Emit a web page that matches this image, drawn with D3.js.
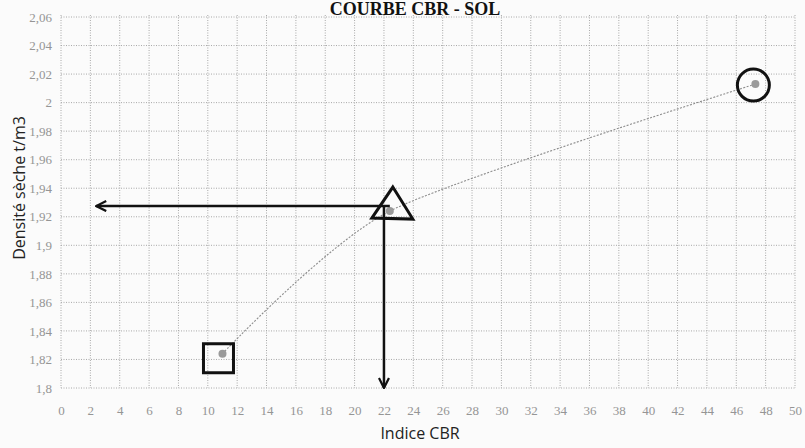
<!DOCTYPE html>
<html><head><meta charset="utf-8">
<script src="https://cdn.jsdelivr.net/npm/d3@7"></script>
<style>
html,body{margin:0;padding:0;background:#fbfbfb;}
svg{display:block;}
</style></head>
<body>
<svg id="c" width="805" height="448"></svg>
<script>
// ---- data ----
const cbr = [11.0, 22.4, 47.3];
const density = [1.824, 1.924, 2.013];
const xTicks = d3.range(0, 51, 2);
const yTicks = [1.8,1.82,1.84,1.86,1.88,1.9,1.92,1.94,1.96,1.98,2,2.02,2.04,2.06];
const readDensity = 1.9275;   // horizontal reading arrow
const readCBR = 22;           // vertical reading arrow
const arrowLeftX = 2.4;
const titleText = "COURBE CBR - SOL";
const xLabel = "Indice CBR";
const yLabel = "Densité sèche t/m3";

const svg = d3.select("#c");
const x = d3.scaleLinear().domain([0,50]).range([61,795]);
const y = d3.scaleLinear().domain([1.8,2.06]).range([388,17]);
const fmt = d => String(+d.toFixed(2)).replace(".", ",");

// grid
const g = svg.append("g");
g.selectAll("line.v").data(xTicks).join("line")
  .attr("x1", d=>x(d)).attr("x2", d=>x(d)).attr("y1", y(2.06)-2).attr("y2", y(1.8))
  .attr("stroke","#a8a8a8").attr("stroke-width",1).attr("stroke-dasharray","1,1.5");
g.selectAll("line.h").data(yTicks).join("line")
  .attr("x1", x(0)).attr("x2", x(50)).attr("y1", d=>y(d)).attr("y2", d=>y(d))
  .attr("stroke","#a8a8a8").attr("stroke-width",1).attr("stroke-dasharray","1,1.5");

// axes labels via d3 axes (no domain lines)
const ax = svg.append("g").attr("transform",`translate(0,${y(1.8)})`)
  .call(d3.axisBottom(x).tickValues(xTicks).tickSize(0).tickPadding(18).tickFormat(d=>d));
const ay = svg.append("g").attr("transform",`translate(${x(0)},0)`)
  .call(d3.axisLeft(y).tickValues(yTicks).tickSize(0).tickPadding(9).tickFormat(fmt));
[ax,ay].forEach(a=>{ a.select(".domain").remove();
  a.selectAll("text").attr("fill","#959595").attr("font-family","Liberation Serif, serif").attr("font-size",13); });

// curve
const pts = cbr.map((c,i)=>[c, density[i]]);
svg.append("path").datum(pts)
  .attr("d", d3.line().x(d=>x(d[0])).y(d=>y(d[1])).curve(d3.curveCardinal.tension(0.3)))
  .attr("fill","none").attr("stroke","#8c8c8c").attr("stroke-width",1.1).attr("stroke-dasharray","2,1.5");
svg.selectAll("circle.pt").data(pts).join("circle")
  .attr("cx", d=>x(d[0])).attr("cy", d=>y(d[1])).attr("r",4).attr("fill","#9a9a9a");

// arrows
const defs = svg.append("defs");
defs.append("marker").attr("id","ah").attr("viewBox","0 0 10 10").attr("refX",9).attr("refY",5)
  .attr("markerWidth",5).attr("markerHeight",5).attr("orient","auto-start-reverse")
  .append("path").attr("d","M1,1 L9,5 L1,9").attr("fill","none").attr("stroke","#111").attr("stroke-width",1.8);
svg.append("line").attr("x1", x(cbr[1])).attr("y1", y(readDensity)).attr("x2", x(arrowLeftX)).attr("y2", y(readDensity))
  .attr("stroke","#111").attr("stroke-width",2.5).attr("marker-end","url(#ah)");
svg.append("line").attr("x1", x(readCBR)).attr("y1", y(readDensity)).attr("x2", x(readCBR)).attr("y2", y(1.8))
  .attr("stroke","#111").attr("stroke-width",2.5).attr("marker-end","url(#ah)");

// annotation shapes
const p0=[x(cbr[0]),y(density[0])], p1=[x(cbr[1]),y(density[1])], p2=[x(cbr[2]),y(density[2])];
svg.append("rect").attr("x",p0[0]-19).attr("y",p0[1]-10).attr("width",30).attr("height",29)
  .attr("fill","none").attr("stroke","#111").attr("stroke-width",3);
svg.append("path").attr("d",`M${p1[0]+3},${p1[1]-24} L${p1[0]+23},${p1[1]+8} L${p1[0]-18},${p1[1]+7} Z`)
  .attr("fill","none").attr("stroke","#111").attr("stroke-width",3).attr("stroke-linejoin","miter");
svg.append("circle").attr("cx",p2[0]-2).attr("cy",p2[1]+1).attr("r",16)
  .attr("fill","none").attr("stroke","#111").attr("stroke-width",3);

// titles
svg.append("text").attr("x",415).attr("y",15).attr("text-anchor","middle")
  .attr("font-family","Liberation Serif, serif").attr("font-weight","bold").attr("font-size",18)
  .attr("fill","#111").text(titleText);
svg.append("text").attr("x",420).attr("y",439).attr("text-anchor","middle")
  .attr("font-family","Open Sans, sans-serif").attr("font-size",16).attr("fill","#222").text(xLabel);
svg.append("text").attr("transform","translate(25,188) rotate(-90)").attr("text-anchor","middle")
  .attr("font-family","Open Sans, sans-serif").attr("font-size",16).attr("fill","#222").text(yLabel);
</script>
</body></html>
